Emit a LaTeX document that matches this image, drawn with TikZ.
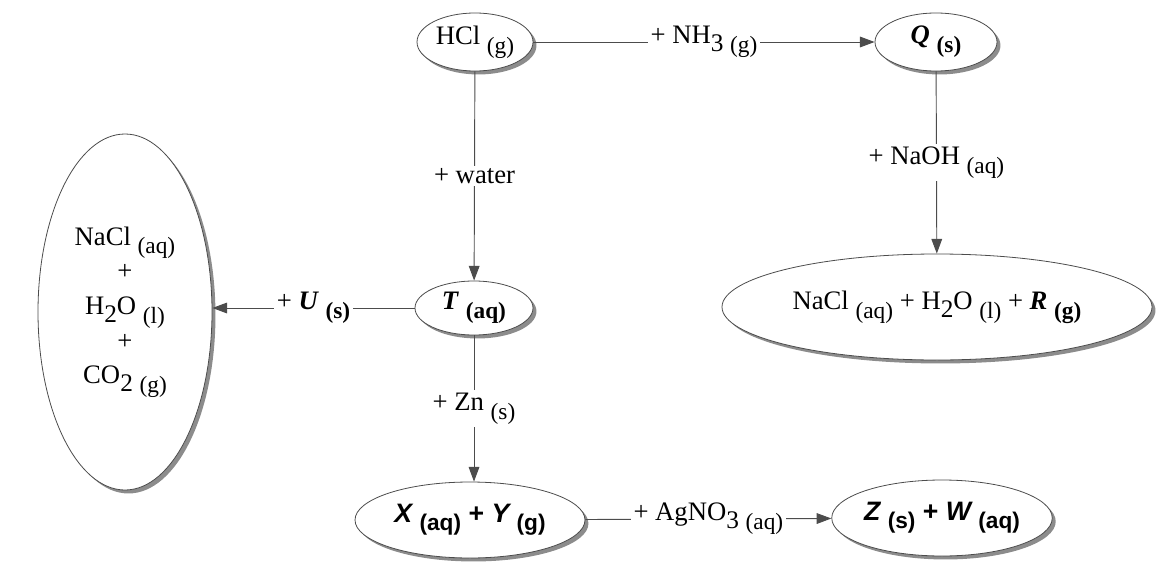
\documentclass[tikz,border=0pt]{standalone}
\usepackage{fontspec}
\setmainfont{Liberation Serif}
\newfontfamily\arialfont{Liberation Sans}
\usetikzlibrary{shapes.geometric,arrows.meta,shadows}
\newcommand{\stt}[1]{\raisebox{-0.33em}{\fontsize{17.5}{17.5}\selectfont #1}}
\newcommand{\bst}[1]{\raisebox{-0.33em}{\fontsize{17.5}{17.5}\selectfont\bfseries #1}}
\newcommand{\ssub}[1]{\raisebox{-0.3em}{\fontsize{19}{19}\selectfont #1}}
\newcommand{\sst}[1]{\raisebox{-0.3em}{\fontsize{17}{17}\selectfont\arialfont\bfseries\upshape #1}}
\begin{document}
\begin{tikzpicture}[x=0.75pt,y=-0.75pt, font=\fontsize{20}{24}\selectfont,
  ell/.style={ellipse, draw=black!70, line width=0.6pt, fill=white, inner sep=0pt,
    drop shadow={shadow xshift=2.6pt, shadow yshift=-2.6pt, fill=black!45, opacity=1}},
  conn/.style={draw=black!70, line width=0.7pt},
  arr/.style={conn, -{Triangle[length=11pt,width=8pt]}, black!70},
  lbl/.style={fill=white, inner sep=2pt, text=black}]
\useasboundingbox (0,0) rectangle (1156,567);

\node[ell, minimum width=87pt, minimum height=43.5pt] (hcl) at (475,42) {HCl \stt{(g)}};
\node[ell, minimum width=91.5pt, minimum height=43.5pt] (q) at (936,42) {\textbf{\textit{Q}} \bst{(s)}};
\node[ell, minimum width=88.5pt, minimum height=40.5pt] (t) at (474,308) {\textbf{\textit{T}} \bst{(aq)}};
\node[ell, minimum width=130.5pt, minimum height=267pt, align=center,
  font=\fontsize{20}{26}\selectfont] (l) at (125,312)
  {NaCl \stt{(aq)}\\+\\H\ssub{2}O \stt{(l)}\\+\\CO\ssub{2} \stt{(g)}};
\node[ell, minimum width=322.5pt, minimum height=79.5pt] (r) at (937,307)
  {NaCl \stt{(aq)} + H\ssub{2}O \stt{(l)} + \textbf{\textit{R}} \bst{(g)}};
\node[ell, minimum width=172.5pt, minimum height=57pt] (xy) at (470,520)
  {\arialfont\bfseries\itshape X \sst{(aq)} \upshape+ \itshape Y \sst{(g)}};
\node[ell, minimum width=138pt, minimum height=57pt] (zw) at (942,518)
  {\arialfont\bfseries\itshape Z \sst{(s)} \upshape+ \itshape W \sst{(aq)}};

\draw[arr] (hcl) -- node[lbl] {+ NH\ssub{3} \stt{(g)}} (q);
\draw[arr] (hcl) -- node[lbl] {+ water} (t);
\draw[arr] (q) -- node[lbl] {+ NaOH \stt{(aq)}} (r);
\draw[arr] (t) -- node[lbl] {+ \textbf{\textit{U}} \bst{(s)}} (t -| l.east);
\draw[arr] (t) -- node[lbl] {+ Zn \stt{(s)}} (t |- xy.north);
\draw[arr] (xy) -- node[lbl] {+ AgNO\ssub{3} \stt{(aq)}} (zw);
\end{tikzpicture}
\end{document}
